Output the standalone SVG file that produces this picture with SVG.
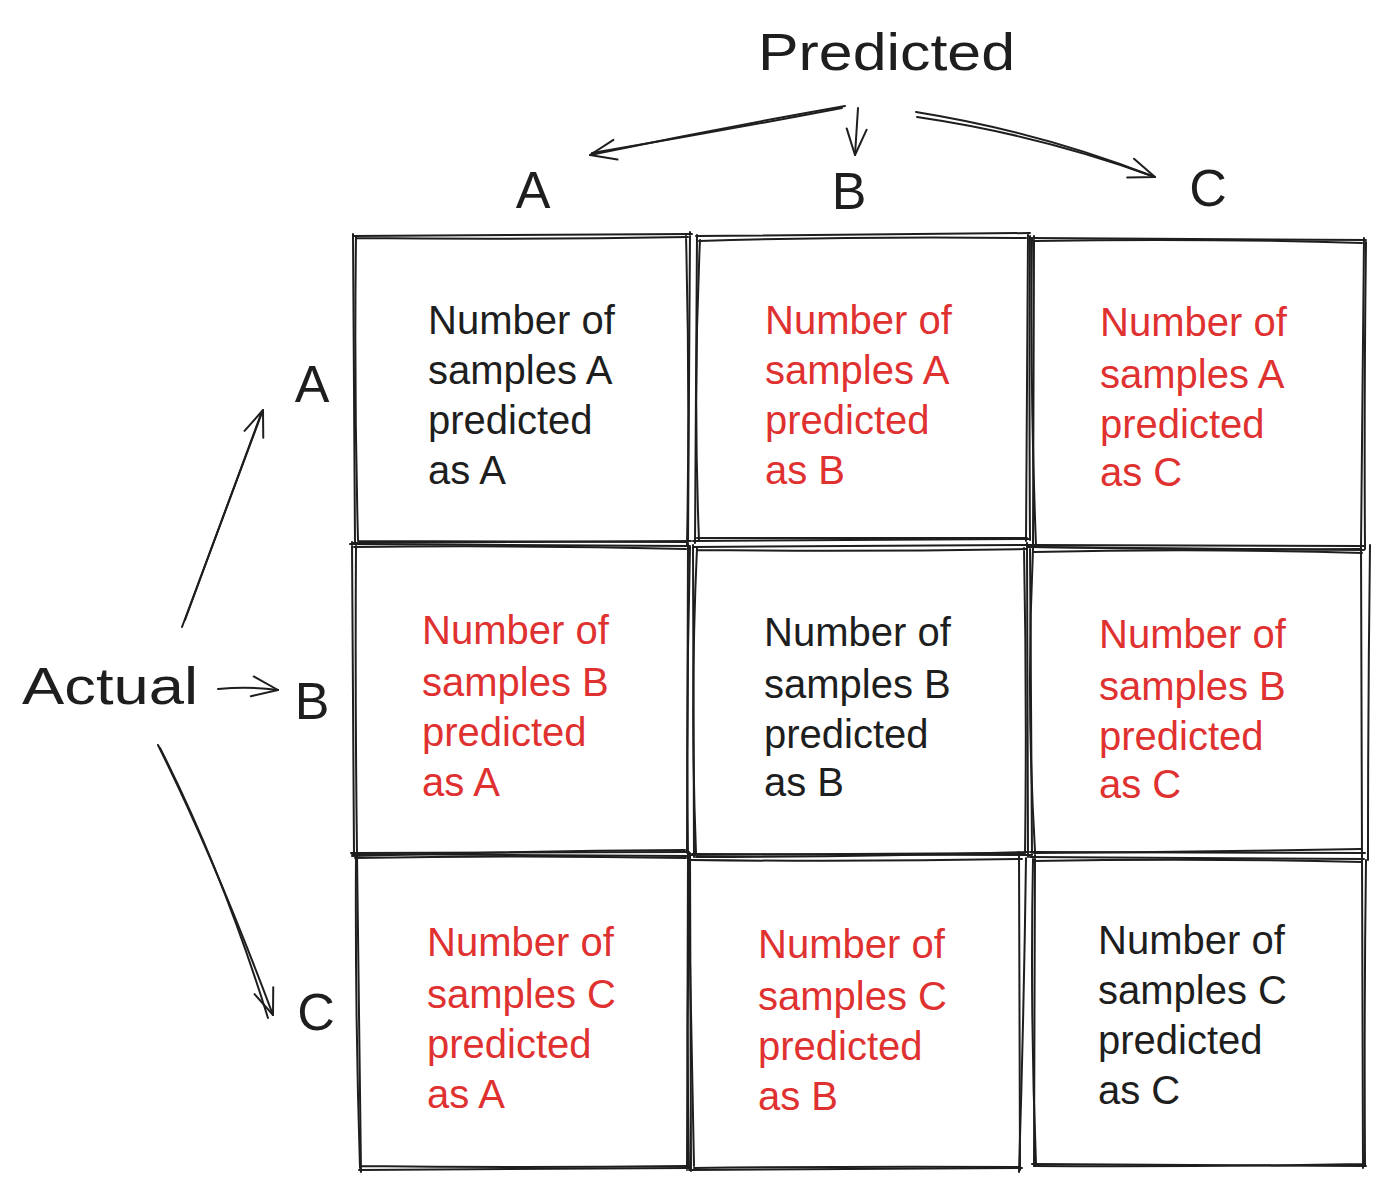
<svg xmlns="http://www.w3.org/2000/svg" width="1384" height="1189" viewBox="0 0 1384 1189">
<defs>
<style>
.bg{fill:#ffffff}
.box{fill:none;stroke:#1e1e1e;stroke-width:2;stroke-linecap:round;stroke-linejoin:round}
.conn{fill:none;stroke:#1e1e1e;stroke-width:2;stroke-linecap:round;stroke-linejoin:round}
.t{font-family:"Liberation Sans","Noto Sans",sans-serif;font-size:40px;fill:#1e1e1e}
.r{fill:#e03131}
.h{font-family:"Liberation Sans","Noto Sans",sans-serif;font-size:52px;fill:#1e1e1e}
</style>
<marker id="ah" viewBox="0 0 30 24" refX="28" refY="12" markerWidth="30" markerHeight="24" markerUnits="userSpaceOnUse" orient="auto">
<path d="M2,2 L28,12 L2,22" fill="none" stroke="#1e1e1e" stroke-width="2" stroke-linecap="round" stroke-linejoin="round"/>
</marker>
</defs>
<rect class="bg" x="0" y="0" width="1384" height="1189"/>

<g id="header-predicted"><text class="h" x="758" y="70" textLength="257" lengthAdjust="spacingAndGlyphs">Predicted</text></g>
<g id="header-actual"><text class="h" x="22" y="704" textLength="176" lengthAdjust="spacingAndGlyphs">Actual</text></g>
<g id="col-A"><text class="h" x="533" y="208" text-anchor="middle">A</text></g>
<g id="col-B"><text class="h" x="849" y="209" text-anchor="middle">B</text></g>
<g id="col-C"><text class="h" x="1208" y="206" text-anchor="middle">C</text></g>
<g id="row-A"><text class="h" x="312" y="402" text-anchor="middle">A</text></g>
<g id="row-B"><text class="h" x="312" y="719" text-anchor="middle">B</text></g>
<g id="row-C"><text class="h" x="316" y="1030" text-anchor="middle">C</text></g>

<g id="connectors">
<path class="conn" d="M845,106 Q720,128 590,155" marker-end="url(#ah)"/>
<path class="conn" d="M842,108 Q716,132 592,153"/>
<path class="conn" d="M858,108 L855,155" marker-end="url(#ah)"/>
<path class="conn" d="M917,117 Q1040,135 1155,177" marker-end="url(#ah)"/>
<path class="conn" d="M916,112 Q1040,132 1152,176"/>
<path class="conn" d="M182,627 L263,410" marker-end="url(#ah)"/>
<path class="conn" d="M185,620 L261,414"/>
<path class="conn" d="M218,689 Q250,686 278,690" marker-end="url(#ah)"/>
<path class="conn" d="M158,745 Q215,860 273,1015" marker-end="url(#ah)"/>
<path class="conn" d="M160,748 Q222,870 268,1018"/>
</g>

<g id="cell-AA">
<path class="box" d="M353,236 L692,234 M690,232 L688,543 M691,541 L352,543 M355,544 L353,234"/>
<path class="box" d="M356,238 Q520,240 688,237 M686,236 Q690,390 687,545 M686,542 Q520,541 358,541 M358,540 Q354,390 356,237"/>
<text class="t" x="428" y="334">Number of</text>
<text class="t" x="428" y="384">samples A</text>
<text class="t" x="428" y="434">predicted</text>
<text class="t" x="428" y="484">as A</text>
</g>
<g id="cell-AB">
<path class="box" d="M696,236 L1030,233 M1028,234 L1026,541 M1029,539 L693,541 M695,543 L697,235"/>
<path class="box" d="M699,241 Q860,236 1026,238 M1030,236 Q1029,390 1030,540 M1027,538 Q860,538 697,538 M699,540 Q693,390 700,240"/>
<text class="t r" x="765" y="334">Number of</text>
<text class="t r" x="765" y="384">samples A</text>
<text class="t r" x="765" y="434">predicted</text>
<text class="t r" x="765" y="484">as B</text>
</g>
<g id="cell-AC">
<path class="box" d="M1031,238 L1366,240 M1364,238 L1361,548 M1364,546 L1030,545 M1033,548 L1034,236"/>
<path class="box" d="M1034,241 Q1200,238 1362,243 M1366,242 Q1364,400 1365,549 M1360,549 Q1200,550 1035,547 M1036,546 Q1030,390 1032,239"/>
<text class="t r" x="1100" y="336">Number of</text>
<text class="t r" x="1100" y="388">samples A</text>
<text class="t r" x="1100" y="438">predicted</text>
<text class="t r" x="1100" y="486">as C</text>
</g>

<g id="cell-BA">
<path class="box" d="M350,544 L690,546 M688,544 L687,853 M689,852 L351,853 M354,855 L352,542"/>
<path class="box" d="M354,547 Q520,545 686,549 M690,547 Q686,700 688,855 M685,850 Q520,851 352,856 M357,853 Q355,700 356,546"/>
<text class="t r" x="422" y="644">Number of</text>
<text class="t r" x="422" y="696">samples B</text>
<text class="t r" x="422" y="746">predicted</text>
<text class="t r" x="422" y="796">as A</text>
</g>
<g id="cell-BB">
<path class="box" d="M693,547 L1030,545 M1027,543 L1028,857 M1031,855 L692,854 M694,857 L693,545"/>
<path class="box" d="M697,550 Q860,552 1026,549 M1024,548 Q1027,700 1025,855 M1027,852 Q860,857 696,857 M696,853 Q690,700 697,548"/>
<text class="t" x="764" y="646">Number of</text>
<text class="t" x="764" y="698">samples B</text>
<text class="t" x="764" y="748">predicted</text>
<text class="t" x="764" y="796">as B</text>
</g>
<g id="cell-BC">
<path class="box" d="M1028,547 L1364,550 M1361,544 L1362,858 M1365,853 L1030,852 M1032,855 L1030,545"/>
<path class="box" d="M1034,552 Q1200,548 1362,553 M1370,545 Q1368,700 1368,860 M1361,849 Q1200,852 1034,853 M1035,851 Q1026,700 1033,549"/>
<text class="t r" x="1099" y="648">Number of</text>
<text class="t r" x="1099" y="700">samples B</text>
<text class="t r" x="1099" y="750">predicted</text>
<text class="t r" x="1099" y="798">as C</text>
</g>

<g id="cell-CA">
<path class="box" d="M352,854 L690,856 M688,854 L687,1170 M689,1168 L359,1170 M361,1172 L357,854"/>
<path class="box" d="M355,858 Q520,855 686,858 M690,858 Q686,1010 689,1168 M687,1166 Q520,1168 360,1166 M360,1168 Q355,1010 356,856"/>
<text class="t r" x="427" y="956">Number of</text>
<text class="t r" x="427" y="1008">samples C</text>
<text class="t r" x="427" y="1058">predicted</text>
<text class="t r" x="427" y="1108">as A</text>
</g>
<g id="cell-CB">
<path class="box" d="M688,855 L1024,853 M1019,852 L1020,1170 M1022,1168 L689,1170 M691,1171 L690,853"/>
<path class="box" d="M691,860 Q860,862 1022,859 M1026,858 Q1024,1010 1019,1172 M1020,1167 Q860,1166 694,1168 M694,1166 Q691,1010 688,858"/>
<text class="t r" x="758" y="958">Number of</text>
<text class="t r" x="758" y="1010">samples C</text>
<text class="t r" x="758" y="1060">predicted</text>
<text class="t r" x="758" y="1110">as B</text>
</g>
<g id="cell-CC">
<path class="box" d="M1030,857 L1364,859 M1362,856 L1363,1168 M1366,1166 L1032,1164 M1034,1166 L1035,855"/>
<path class="box" d="M1033,861 Q1200,858 1362,862 M1366,860 Q1364,1010 1365,1166 M1364,1164 Q1200,1167 1034,1166 M1036,1164 Q1030,1010 1033,859"/>
<text class="t" x="1098" y="954">Number of</text>
<text class="t" x="1098" y="1004">samples C</text>
<text class="t" x="1098" y="1054">predicted</text>
<text class="t" x="1098" y="1104">as C</text>
</g>
</svg>
